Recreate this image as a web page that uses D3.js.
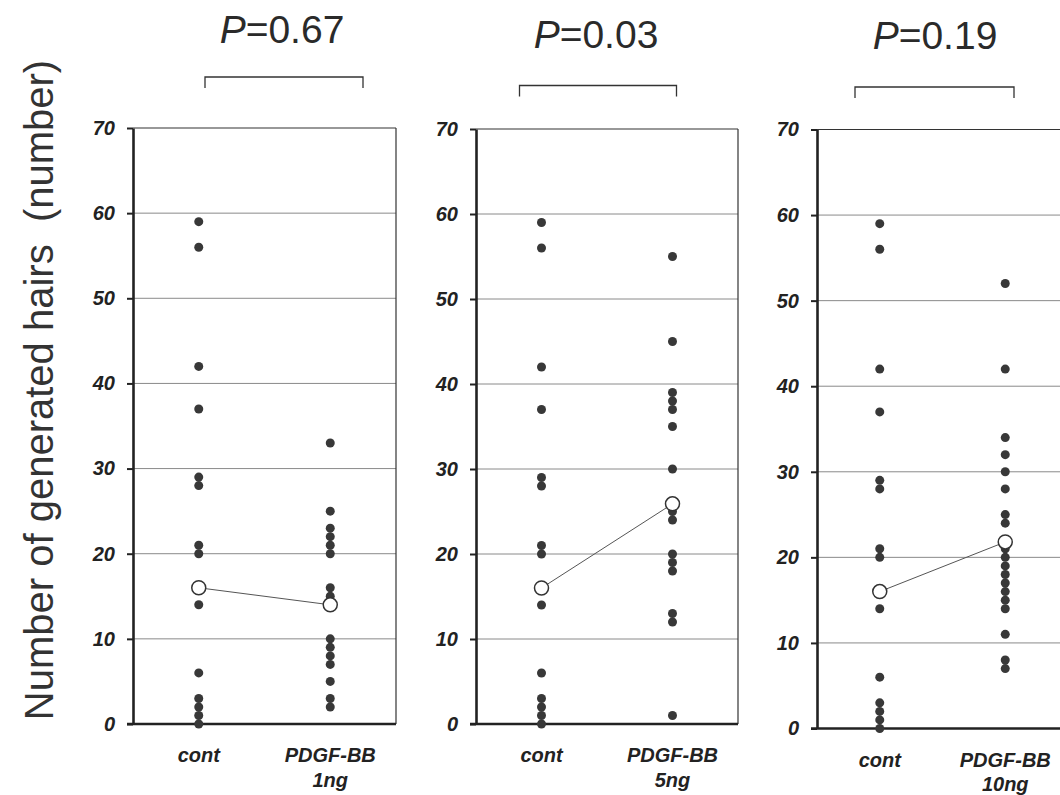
<!DOCTYPE html>
<html>
<head>
<meta charset="utf-8">
<script src="https://cdn.jsdelivr.net/npm/d3@7"></script>
<style>
  html, body { margin: 0; padding: 0; background: #fff; }
  svg { display: block; }
</style>
</head>
<body>
<svg id="chart" width="1060" height="795"></svg>
<script>
// ---------------- data ----------------
const categories = ["cont", "PDGF-BB"];
const doseLabels = ["1ng", "5ng", "10ng"];
const pValues = ["0.67", "0.03", "0.19"];
const yTicks = [0, 10, 20, 30, 40, 50, 60, 70];

const contValues = [59, 56, 42, 37, 29, 28, 21, 20, 14, 6, 3, 2, 1, 0];
const pdgf1ngValues = [33, 25, 23, 22, 21, 20, 16, 15, 10, 9, 8, 7, 5, 3, 2];
const pdgf5ngValues = [55, 45, 39, 38, 37, 35, 30, 25, 24, 20, 19, 18, 13, 12, 1];
const pdgf10ngValues = [52, 42, 34, 32, 30, 28, 25, 24, 21, 20, 19, 18, 17, 16, 15, 14, 11, 8, 7];

const contCenter = [16, 16, 16];
const pdgfCenter = [14, 25.9, 21.8];

const treatedSeries = [pdgf1ngValues, pdgf5ngValues, pdgf10ngValues];

// ---------------- layout ----------------
const panelLayout = [
  { left: 133, width: 263, top: 128,   bottom: 724,   titleX: 282, titleY: 43, brY: 77,   brX0: 205,   brX1: 363 },
  { left: 476, width: 262, top: 129,   bottom: 724,   titleX: 596, titleY: 48, brY: 85.5, brX0: 519.5, brX1: 676.5 },
  { left: 817, width: 251, top: 129.5, bottom: 728.5, titleX: 935, titleY: 49, brY: 87,   brX0: 855,   brX1: 1014 }
];

const FONT = "'Liberation Sans', Arial, Helvetica, sans-serif";
const svg = d3.select("#chart");

// y axis title
svg.append("text")
  .attr("transform", "translate(53,390) rotate(-90)")
  .attr("text-anchor", "middle")
  .style("white-space", "pre")
  .attr("font-family", FONT)
  .attr("font-size", 40)
  .attr("fill", "#333")
  .text("Number of generated hairs  (number)");

panelLayout.forEach((L, i) => {
  const x = d3.scalePoint().domain(categories).range([L.left, L.left + L.width]).padding(0.5);
  const y = d3.scaleLinear().domain([0, 70]).range([L.bottom, L.top]);
  const g = svg.append("g");

  // gridlines
  g.selectAll("line.grid")
    .data(yTicks.filter(t => t > 0 && t < 70))
    .join("line")
    .attr("x1", L.left).attr("x2", L.left + L.width)
    .attr("y1", d => y(d)).attr("y2", d => y(d))
    .attr("stroke", "#8a8a8a").attr("stroke-width", 1);

  // top & right frame
  g.append("line")
    .attr("x1", L.left).attr("x2", L.left + L.width)
    .attr("y1", y(70)).attr("y2", y(70))
    .attr("stroke", "#333").attr("stroke-width", 1.2);
  g.append("line")
    .attr("x1", L.left + L.width).attr("x2", L.left + L.width)
    .attr("y1", y(70)).attr("y2", y(0))
    .attr("stroke", "#333").attr("stroke-width", 1.2);

  // left axis
  const ax = g.append("g")
    .attr("transform", `translate(${L.left},0)`)
    .call(d3.axisLeft(y).tickValues(yTicks).tickSize(6).tickSizeOuter(0).tickPadding(12));
  ax.select(".domain").attr("stroke", "#222").attr("stroke-width", 2.6);
  ax.selectAll(".tick line").attr("stroke", "#222").attr("stroke-width", 2);
  ax.selectAll(".tick text")
    .attr("font-family", FONT)
    .attr("font-size", 20)
    .attr("font-weight", "bold")
    .attr("font-style", "italic")
    .attr("fill", "#222");

  // bottom axis line
  g.append("line")
    .attr("x1", L.left - 6).attr("x2", L.left + L.width)
    .attr("y1", y(0)).attr("y2", y(0))
    .attr("stroke", "#222").attr("stroke-width", 2.6);

  // category labels
  const labelData = [
    { cat: categories[0], lines: [categories[0]] },
    { cat: categories[1], lines: [categories[1], doseLabels[i]] }
  ];
  labelData.forEach(ld => {
    ld.lines.forEach((t, k) => {
      g.append("text")
        .attr("x", x(ld.cat))
        .attr("y", y(0) + 38 + k * 24.5)
        .attr("text-anchor", "middle")
        .attr("font-family", FONT)
        .attr("font-size", 20)
        .attr("font-weight", "bold")
        .attr("font-style", "italic")
        .attr("fill", "#222")
        .text(t);
    });
  });

  // connecting line between centers
  g.append("line")
    .attr("x1", x(categories[0])).attr("y1", y(contCenter[i]))
    .attr("x2", x(categories[1])).attr("y2", y(pdgfCenter[i]))
    .attr("stroke", "#555").attr("stroke-width", 1);

  // dots
  g.selectAll("circle.cont")
    .data(contValues)
    .join("circle")
    .attr("cx", x(categories[0])).attr("cy", d => y(d))
    .attr("r", 4.5).attr("fill", "#383838");
  g.selectAll("circle.pdgf")
    .data(treatedSeries[i])
    .join("circle")
    .attr("cx", x(categories[1])).attr("cy", d => y(d))
    .attr("r", 4.5).attr("fill", "#383838");

  // open center circles
  g.selectAll("circle.center")
    .data([[categories[0], contCenter[i]], [categories[1], pdgfCenter[i]]])
    .join("circle")
    .attr("cx", d => x(d[0])).attr("cy", d => y(d[1]))
    .attr("r", 7).attr("fill", "#fff").attr("stroke", "#333").attr("stroke-width", 1.5);

  // title
  const tt = svg.append("text")
    .attr("x", L.titleX).attr("y", L.titleY)
    .attr("text-anchor", "middle")
    .attr("font-family", FONT)
    .attr("font-size", 39)
    .attr("fill", "#2a2a2a");
  tt.append("tspan").attr("font-style", "italic").text("P");
  tt.append("tspan").text("=" + pValues[i]);

  // bracket
  svg.append("path")
    .attr("d", `M${L.brX0},${L.brY + 11}V${L.brY}H${L.brX1}V${L.brY + 11}`)
    .attr("fill", "none").attr("stroke", "#333").attr("stroke-width", 1.3);
});
</script>
</body>
</html>
